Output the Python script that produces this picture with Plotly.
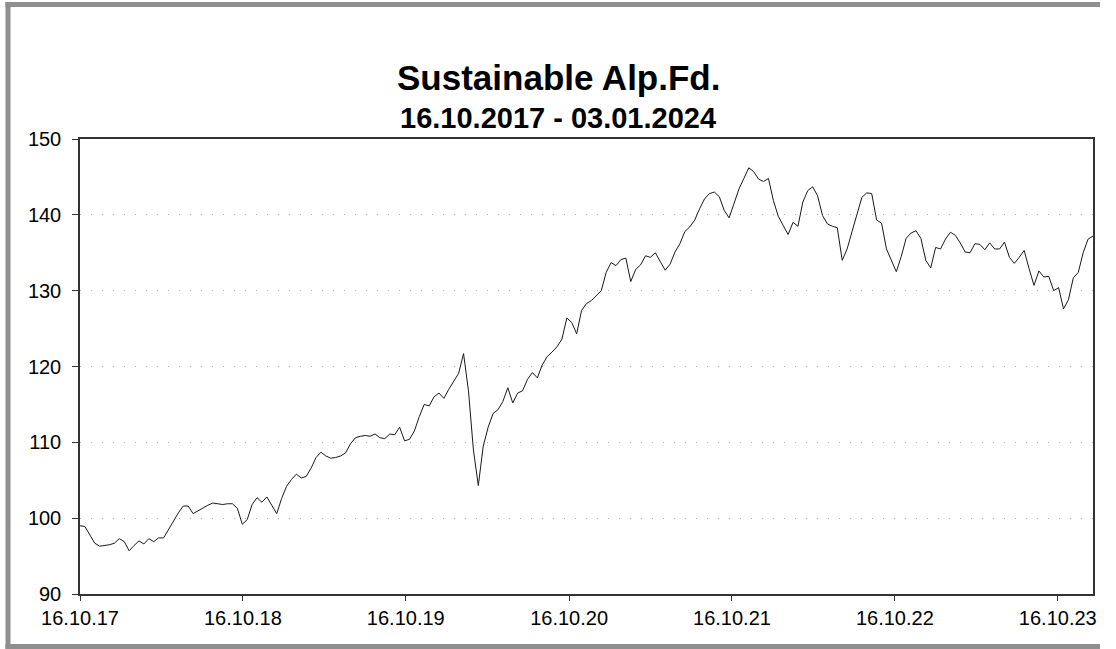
import pandas as pd
import plotly.graph_objects as go

# ---- data ----
start_date = "2017-10-16"
end_date = "2024-01-03"
values = [
    99.0, 98.9, 97.8, 96.7, 96.3, 96.4, 96.5, 96.7, 97.3, 96.9,
    95.7, 96.4, 97.0, 96.6, 97.3, 96.9, 97.4, 97.4, 98.5, 99.6,
    100.7, 101.6, 101.6, 100.6, 101.0, 101.3, 101.7, 102.0, 101.9, 101.8,
    101.9, 101.9, 101.3, 99.2, 99.8, 101.8, 102.7, 102.1, 102.8, 101.6,
    100.6, 102.6, 104.2, 105.1, 105.8, 105.3, 105.5, 106.6, 108.0, 108.7,
    108.2, 107.9, 108.0, 108.2, 108.6, 109.8, 110.6, 110.8, 110.9, 110.8,
    111.1, 110.6, 110.5, 111.1, 111.0, 112.0, 110.2, 110.4, 111.5, 113.4,
    115.0, 114.8, 116.0, 116.5, 115.8, 117.0, 118.1, 119.1, 121.7, 116.8,
    109.0, 104.3, 109.5, 112.0, 113.8, 114.3, 115.4, 117.2, 115.2, 116.5,
    116.8, 118.3, 119.2, 118.5, 120.2, 121.3, 121.9, 122.6, 123.6, 126.4,
    125.8, 124.3, 127.4, 128.3, 128.7, 129.3, 130.0, 132.4, 133.7, 133.3,
    134.1, 134.3, 131.2, 132.8, 133.4, 134.6, 134.4, 135.0, 133.8, 132.7,
    133.5, 135.1, 136.2, 137.8, 138.4, 139.3, 140.8, 142.1, 142.8, 143.0,
    142.4, 140.6, 139.6, 141.5, 143.4, 144.8, 146.2, 145.7, 144.7, 144.4,
    144.8, 141.9, 139.8, 138.6, 137.4, 139.0, 138.5, 141.7, 143.2, 143.7,
    142.5, 139.9, 138.8, 138.5, 138.3, 134.0, 135.5, 137.8, 140.2, 142.3,
    142.9, 142.8, 139.3, 138.9, 135.5, 134.0, 132.5, 134.5, 136.9, 137.6,
    137.9, 136.9, 134.0, 133.0, 135.7, 135.5, 136.8, 137.7, 137.3, 136.3,
    135.1, 135.0, 136.2, 136.1, 135.4, 136.3, 135.5, 135.5, 136.4, 134.4,
    133.6, 134.4, 135.3, 132.9, 130.7, 132.6, 131.8, 131.9, 130.0, 130.4,
    127.6, 128.8, 131.7, 132.4, 135.0, 136.8, 137.2,
]
dates = pd.date_range(start_date, end_date, periods=len(values))

tick_dates = ["2017-10-16", "2018-10-16", "2019-10-16", "2020-10-16",
              "2021-10-16", "2022-10-16", "2023-10-16"]
tick_labels = ["16.10.17", "16.10.18", "16.10.19", "16.10.20",
               "16.10.21", "16.10.22", "16.10.23"]
y_ticks = [90, 100, 110, 120, 130, 140, 150]

title_text = "Sustainable Alp.Fd."
subtitle_text = "16.10.2017 - 03.01.2024"

# ---- layout geometry ----
W, H = 1116, 649
ML, MR, MT, MB = 80, 23, 139, 55
PW, PH = W - ML - MR, H - MT - MB


def px(xp):
    return (xp - ML) / PW


def py(yp):
    return (H - MB - yp) / PH


FONT = "Liberation Sans, Arial, sans-serif"

fig = go.Figure()
fig.add_trace(go.Scatter(
    x=dates, y=values, mode="lines",
    line=dict(color="#1a1a1a", width=1),
    hoverinfo="skip", showlegend=False,
))

fig.update_layout(
    width=W, height=H, autosize=False,
    margin=dict(l=ML, r=MR, t=MT, b=MB, pad=0),
    paper_bgcolor="white", plot_bgcolor="white",
    font=dict(family=FONT, size=20, color="black"),
    showlegend=False,
)

fig.update_xaxes(
    range=[start_date, end_date],
    tickvals=tick_dates, ticktext=tick_labels,
    ticks="outside", ticklen=5, tickwidth=1, tickcolor="#333",
    showline=True, linecolor="#333", linewidth=1.5, mirror=True,
    showgrid=False, zeroline=False,
    tickfont=dict(family=FONT, size=20, color="black"),
)
fig.update_yaxes(
    range=[90, 150],
    tickvals=y_ticks,
    ticks="outside", ticklen=6, tickwidth=1, tickcolor="#333",
    ticklabelstandoff=7,
    showline=True, linecolor="#333", linewidth=1.5, mirror=True,
    showgrid=True, gridcolor="#b0b0b0", gridwidth=1, griddash="1px,10px",
    zeroline=False,
    tickfont=dict(family=FONT, size=20, color="black"),
)

# titles
fig.add_annotation(
    text="<b>" + title_text + "</b>", xref="paper", yref="paper",
    x=px(558), y=py(77), xanchor="center", yanchor="middle",
    showarrow=False, font=dict(family=FONT, size=35, color="black"),
)
fig.add_annotation(
    text="<b>" + subtitle_text + "</b>", xref="paper", yref="paper",
    x=px(558), y=py(118), xanchor="center", yanchor="middle",
    showarrow=False, font=dict(family=FONT, size=29, color="black"),
)

# outer gray frame (left, top, bottom edges)
frame = dict(color="#8f8f8f", width=5)
fig.add_shape(type="line", xref="paper", yref="paper",
              x0=px(8), x1=px(8), y0=py(2), y1=py(649), line=frame, layer="above")
fig.add_shape(type="line", xref="paper", yref="paper",
              x0=px(5.5), x1=px(1100), y0=py(4.5), y1=py(4.5), line=frame, layer="above")
fig.add_shape(type="line", xref="paper", yref="paper",
              x0=px(5.5), x1=px(1100), y0=py(646.5), y1=py(646.5), line=frame, layer="above")

fig.write_html(
    "out.html",
    config={"displayModeBar": False},
    post_script="document.documentElement.style.margin='0px';"
                "document.documentElement.style.overflow='hidden';"
                "document.body.style.margin='0px';"
                "document.body.style.overflow='hidden';",
)
